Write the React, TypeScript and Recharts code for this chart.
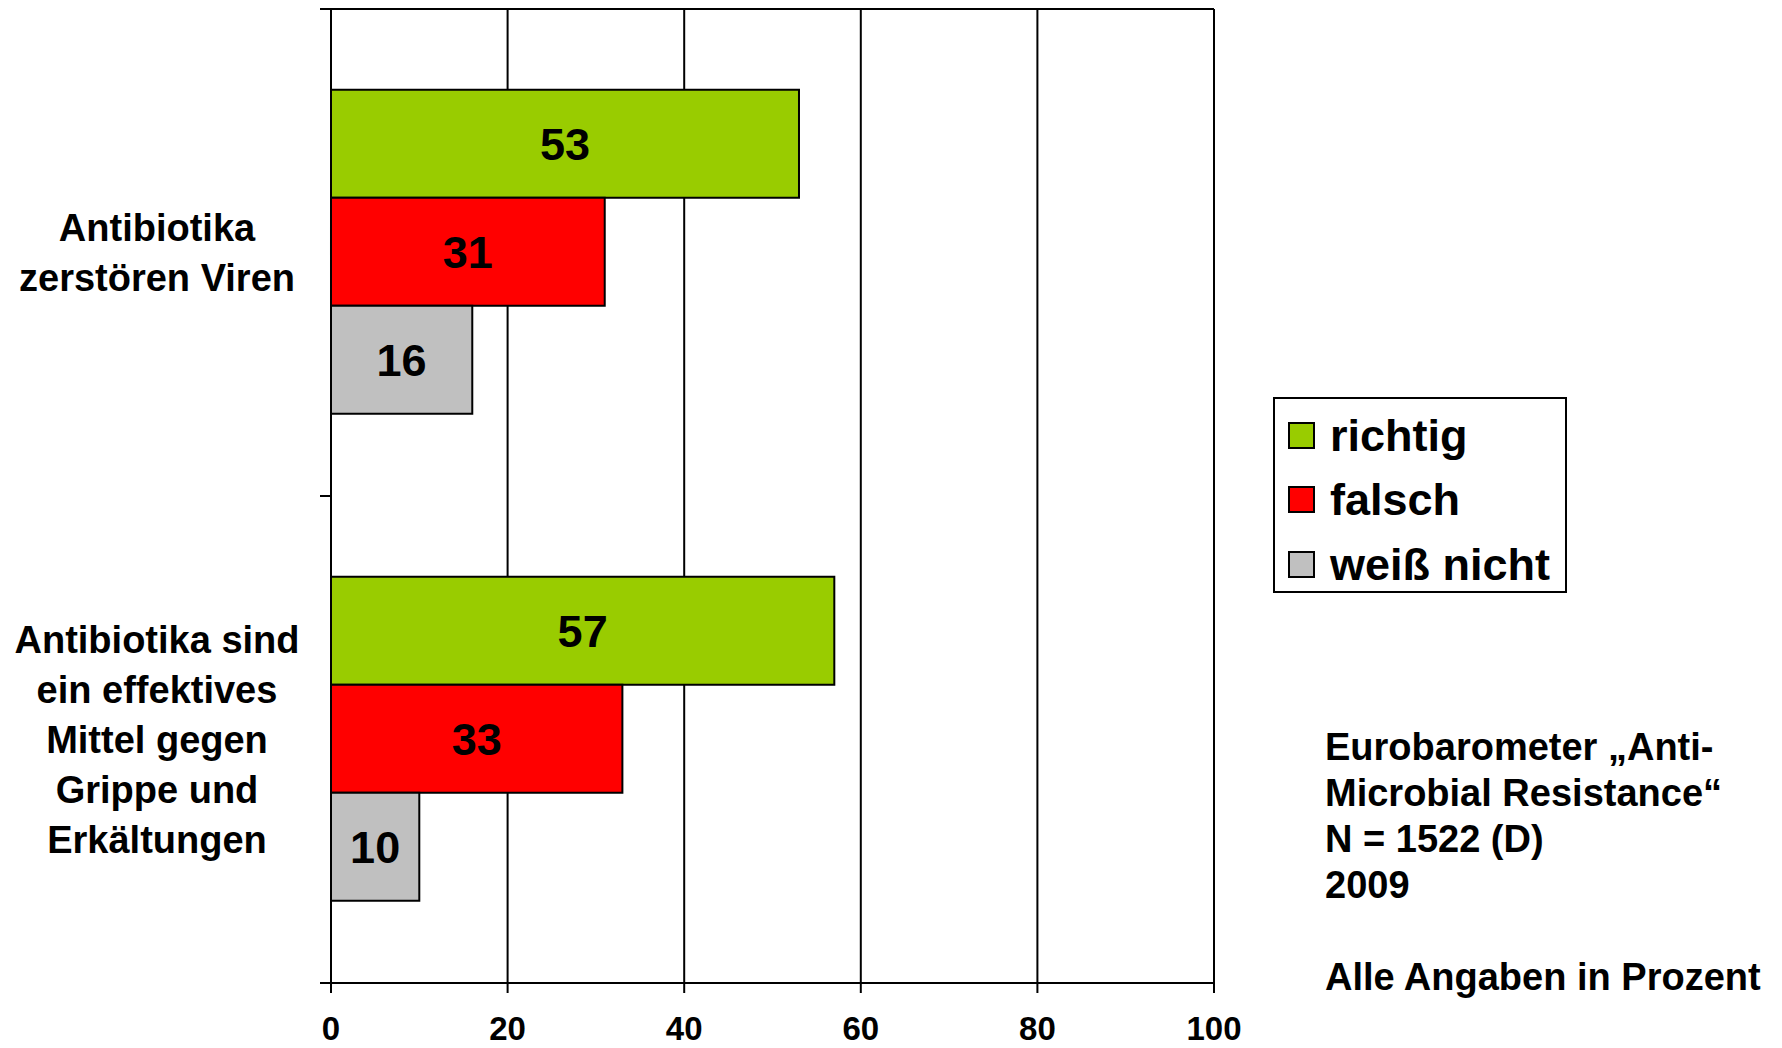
import { BarChart, Bar, XAxis, YAxis, CartesianGrid, LabelList, Legend } from 'recharts';

// Category labels (line breaks kept as in the axis)
const categories = [
  'Antibiotika\nzerstören Viren',
  'Antibiotika sind\nein effektives\nMittel gegen\nGrippe und\nErkältungen',
];
const richtig = [53, 57];
const falsch = [31, 33];
const weissNicht = [16, 10];
const xTicks = [0, 20, 40, 60, 80, 100];

const seriesKeys = ['richtig', 'falsch', 'weissNicht'];
const seriesNames = ['richtig', 'falsch', 'weiß nicht'];
const seriesColors = ['#99cc00', '#ff0000', '#c0c0c0'];

const notes = [
  'Eurobarometer „Anti-',
  'Microbial Resistance“',
  'N = 1522 (D)',
  '2009',
  '',
  'Alle Angaben in Prozent',
];

const W = 1782;
const H = 1048;
const MARGIN = { top: 9, right: 568, bottom: 0, left: 0 };
const Y_AXIS_W = 331;
const X_AXIS_H = 65;
const PLOT_H = H - MARGIN.top - MARGIN.bottom - X_AXIS_H;
const BAND = PLOT_H / categories.length;
const FONT = '"Liberation Sans", Arial, Helvetica, sans-serif';

const data = categories.map((name, i) => ({
  name,
  richtig: richtig[i],
  falsch: falsch[i],
  weissNicht: weissNicht[i],
}));

// multi-line category label plus the boundary tick marks of each band
function CategoryTick({ x, y, payload }: any) {
  const lines = String(payload.value).split('\n');
  const lineH = 50;
  const first = y - ((lines.length - 1) * lineH) / 2 + 13.5;
  return (
    <g>
      <line x1={x - 11} x2={x} y1={y - BAND / 2} y2={y - BAND / 2} stroke="#000" strokeWidth={2} />
      <line x1={x - 11} x2={x} y1={y + BAND / 2} y2={y + BAND / 2} stroke="#000" strokeWidth={2} />
      <text
        x={x - 174}
        y={first}
        textAnchor="middle"
        fontFamily={FONT}
        fontWeight="bold"
        fontSize={38}
        fill="#000"
      >
        {lines.map((l, i) => (
          <tspan key={i} x={x - 174} y={first + i * lineH}>
            {l}
          </tspan>
        ))}
      </text>
    </g>
  );
}

// legend keeps the series order (richtig, falsch, weiß nicht)
function LegendBox() {
  return (
    <div
      style={{
        border: '2px solid #000',
        background: '#fff',
        boxSizing: 'border-box',
        width: 294,
        height: 196,
        paddingTop: 4,
        fontFamily: FONT,
        fontWeight: 'bold',
        fontSize: 45,
        color: '#000',
      }}
    >
      {seriesNames.map((name, i) => (
        <div key={name} style={{ display: 'flex', alignItems: 'center', height: 64.5 }}>
          <span
            style={{
              display: 'inline-block',
              width: 23,
              height: 23,
              marginLeft: 13,
              marginRight: 15,
              background: seriesColors[i],
              border: '2px solid #000',
            }}
          />
          <span style={{ lineHeight: 1 }}>{name}</span>
        </div>
      ))}
    </div>
  );
}

export default function App() {
  return (
    <div style={{ position: 'absolute', left: 0, top: 0, width: W, height: H, background: '#fff' }}>
      <BarChart
        width={W}
        height={H}
        data={data}
        layout="vertical"
        margin={MARGIN}
        barCategoryGap="16.6%"
        barGap={0}
        style={{ fontFamily: FONT }}
      >
        {/* vertical gridlines plus the top frame line */}
        <CartesianGrid
          stroke="#000"
          strokeWidth={2}
          horizontalCoordinatesGenerator={({ offset }: any) => [offset.top]}
        />
        <XAxis
          type="number"
          domain={[0, 100]}
          ticks={xTicks}
          interval={0}
          height={X_AXIS_H}
          tickSize={10}
          tickMargin={24}
          axisLine={{ stroke: '#000', strokeWidth: 2 }}
          tickLine={{ stroke: '#000', strokeWidth: 2 }}
          tick={{ fill: '#000', fontSize: 33, fontWeight: 'bold', fontFamily: FONT }}
        />
        <YAxis
          type="category"
          dataKey="name"
          width={Y_AXIS_W}
          tickSize={0}
          tickMargin={0}
          tickLine={false}
          interval={0}
          axisLine={{ stroke: '#000', strokeWidth: 2 }}
          tick={<CategoryTick />}
        />
        <Legend
          layout="horizontal"
          verticalAlign="middle"
          align="center"
          content={<LegendBox />}
          wrapperStyle={{ left: 1273, top: 397, width: 294, height: 196 }}
        />
        {seriesKeys.map((k, i) => (
          <Bar
            key={k}
            dataKey={k}
            name={seriesNames[i]}
            fill={seriesColors[i]}
            stroke="#000"
            strokeWidth={2}
            isAnimationActive={false}
          >
            <LabelList
              dataKey={k}
              position="center"
              fill="#000"
              fontSize={45}
              fontWeight="bold"
              fontFamily={FONT}
            />
          </Bar>
        ))}
      </BarChart>
      <div
        style={{
          position: 'absolute',
          left: 1325,
          top: 724,
          fontFamily: FONT,
          fontWeight: 'bold',
          fontSize: 38,
          lineHeight: '46px',
          whiteSpace: 'pre',
          color: '#000',
        }}
      >
        {notes.map((n, i) => (
          <div key={i} style={{ height: 46 }}>{n}</div>
        ))}
      </div>
    </div>
  );
}
